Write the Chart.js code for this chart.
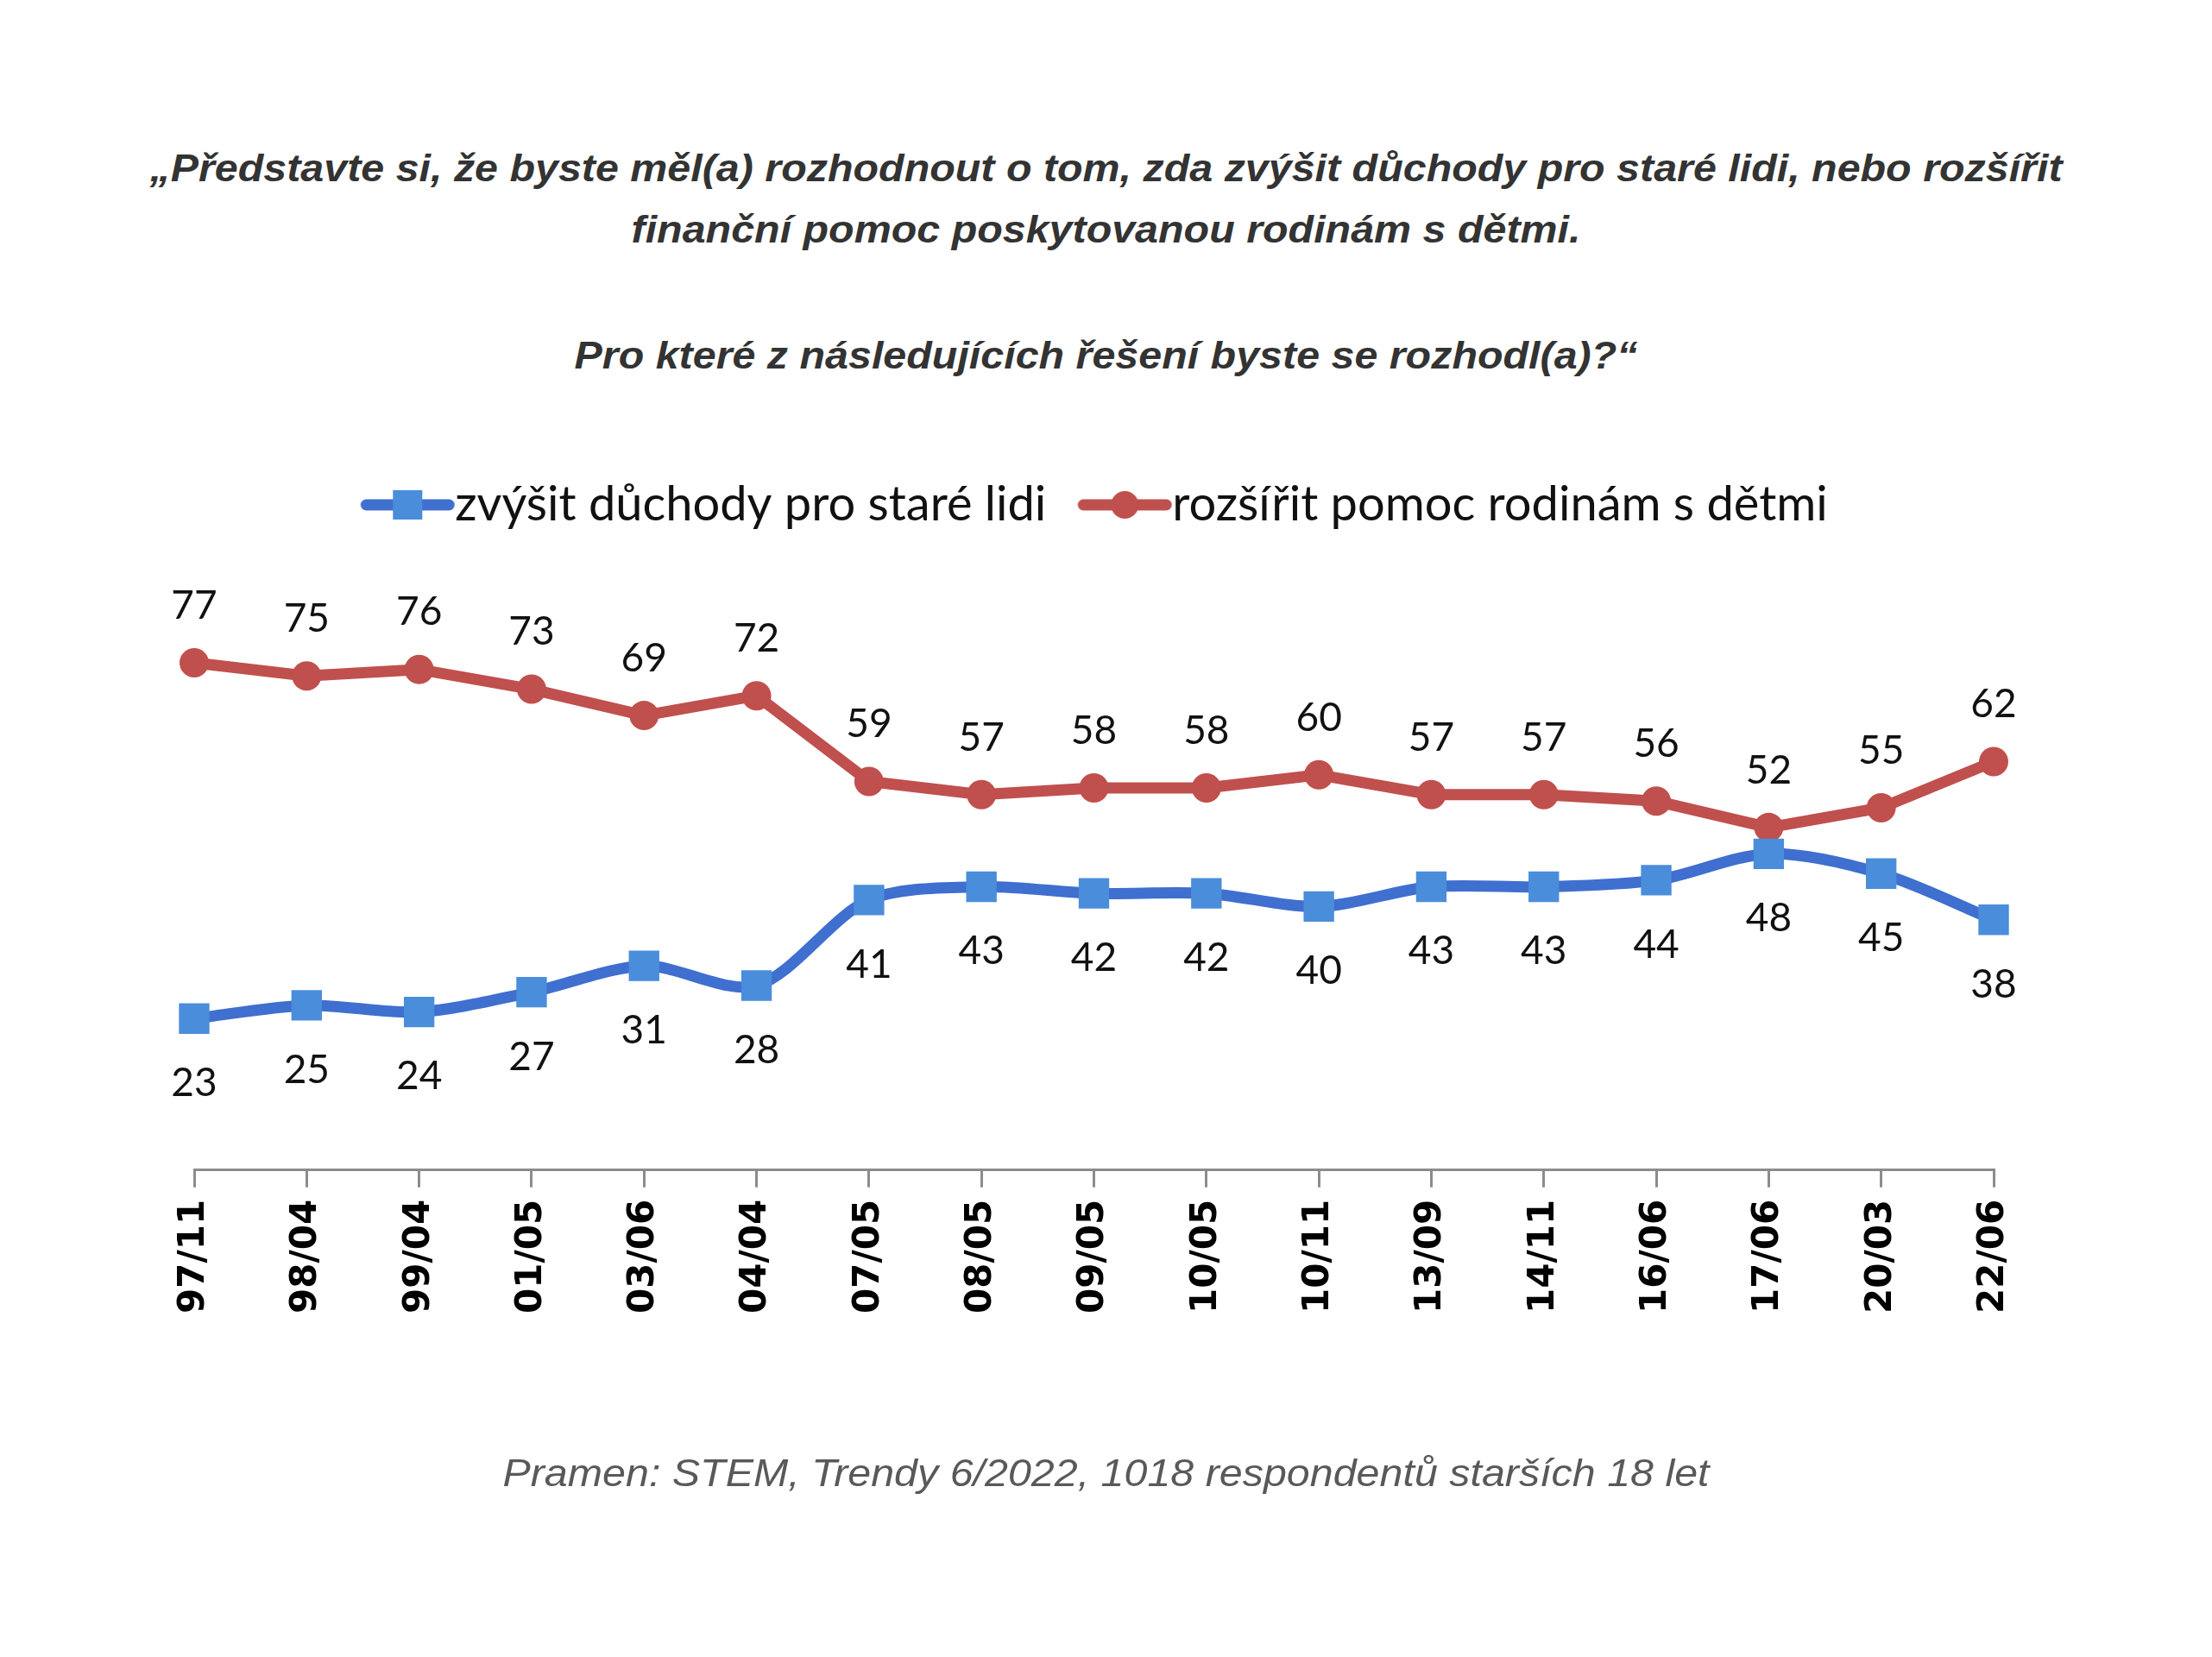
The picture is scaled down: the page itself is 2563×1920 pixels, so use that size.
<!DOCTYPE html>
<html>
<head>
<meta charset="utf-8">
<script src="https://cdn.jsdelivr.net/npm/chart.js@4/dist/chart.umd.min.js"></script>
<style>
  html, body { margin: 0; padding: 0; background: #fff; }
  body { width: 2563px; height: 1920px; position: relative; overflow: hidden; }
  .q { position: absolute; left: 0; width: 2563px; text-align: center; white-space: nowrap;
       font-family: "Liberation Sans", Arial, sans-serif; font-style: italic; font-weight: bold;
       font-size: 44px; line-height: 60px; color: #333; transform: scaleX(1.1); }
  .src { position: absolute; left: 0; width: 2563px; text-align: center; white-space: nowrap;
       font-family: "Liberation Sans", Arial, sans-serif; font-style: italic;
       font-size: 44px; line-height: 60px; color: #595959; top: 1677px; transform: scaleX(1.1); }
  #chart { position: absolute; left: 0; top: 0; }
</style>
</head>
<body>
<div class="q" style="top:165px">„Představte si, že byste měl(a) rozhodnout o tom, zda zvýšit důchody pro staré lidi, nebo rozšířit</div>
<div class="q" style="top:236px">finanční pomoc poskytovanou rodinám s dětmi.</div>
<div class="q" style="top:382px">Pro které z následujících řešení byste se rozhodl(a)?“</div>
<canvas id="chart" width="2563" height="1920"></canvas>
<div class="src">Pramen: STEM, Trendy 6/2022, 1018 respondentů starších 18 let</div>

<script>
// survey waves (year/month)
const waves = ['97/11', '98/04', '99/04', '01/05', '03/06', '04/04', '07/05', '08/05', '09/05',
  '10/05', '10/11', '13/09', '14/11', '16/06', '17/06', '20/03', '22/06'];

const pensionsLabel = 'zvýšit důchody pro staré lidi';
const familiesLabel = 'rozšířit pomoc rodinám s dětmi';

// % of respondents
const pensions = [23, 25, 24, 27, 31, 28, 41, 43, 42, 42, 40, 43, 43, 44, 48, 45, 38];
const families = [77, 75, 76, 73, 69, 72, 59, 57, 58, 58, 60, 57, 57, 56, 52, 55, 62];

const BLUE_LINE = '#3f6fcf';
const BLUE_MARK = '#4a8ddb';
const RED = '#c0504d';

// legend icon: line with marker, drawn into a small canvas
// (left 28px transparent so the text sits right after the line)
function legendIcon(lineColour, markColour, shape) {
  const c = document.createElement('canvas');
  c.width = 138;
  c.height = 40;
  const g = c.getContext('2d');
  g.strokeStyle = lineColour;
  g.lineWidth = 13;
  g.lineCap = 'round';
  g.beginPath();
  g.moveTo(35, 20);
  g.lineTo(131, 20);
  g.stroke();
  g.fillStyle = markColour;
  if (shape === 'rect') {
    g.fillRect(83 - 17, 20 - 17, 34, 34);
  } else {
    g.beginPath();
    g.arc(83, 20, 16, 0, Math.PI * 2);
    g.fill();
  }
  return c;
}

const valueLabels = {
  id: 'valueLabels',
  afterDatasetsDraw(chart) {
    const ctx = chart.ctx;
    ctx.save();
    ctx.font = '46px Lato, "Open Sans", sans-serif';
    ctx.fillStyle = '#111';
    ctx.textAlign = 'center';
    ctx.textBaseline = 'middle';
    chart.data.datasets.forEach((ds, i) => {
      const meta = chart.getDatasetMeta(i);
      meta.data.forEach((pt, j) => {
        ctx.fillText(String(ds.data[j]), pt.x, pt.y + ds.labelOffset);
      });
    });
    ctx.restore();
  }
};

const icons = [legendIcon(BLUE_LINE, BLUE_MARK, 'rect'), legendIcon(RED, RED, 'circle')];

new Chart(document.getElementById('chart'), {
  type: 'line',
  data: {
    labels: waves,
    datasets: [
      {
        label: pensionsLabel,
        data: pensions,
        borderColor: BLUE_LINE,
        backgroundColor: BLUE_MARK,
        borderWidth: 13,
        tension: 0.3,
        pointStyle: 'rect',
        pointRadius: 25,
        pointBorderWidth: 0,
        pointBackgroundColor: BLUE_MARK,
        labelOffset: 75
      },
      {
        label: familiesLabel,
        data: families,
        borderColor: RED,
        backgroundColor: RED,
        borderWidth: 13,
        tension: 0,
        pointStyle: 'circle',
        pointRadius: 17,
        pointBorderWidth: 0,
        pointBackgroundColor: RED,
        labelOffset: -66
      }
    ]
  },
  options: {
    responsive: false,
    animation: false,
    layout: { padding: { top: 521, left: 225, right: 253, bottom: 384 } },
    plugins: {
      tooltip: { enabled: false },
      legend: {
        position: 'top',
        labels: {
          usePointStyle: true,
          pointStyleWidth: 82,
          boxHeight: 40,
          padding: 36,
          color: '#111',
          font: { family: 'Lato, "Open Sans", sans-serif', size: 56 },
          generateLabels: (chart) => chart.data.datasets.map((ds, i) => ({
            text: ds.label,
            pointStyle: icons[i],
            datasetIndex: i,
            fontColor: '#111'
          }))
        }
      }
    },
    scales: {
      x: {
        offset: false,
        border: { color: '#8c8c8c', width: 3 },
        grid: { drawOnChartArea: false, tickLength: 20, color: '#8c8c8c', lineWidth: 3 },
        ticks: {
          minRotation: 90,
          maxRotation: 90,
          padding: 14,
          color: '#000',
          font: { family: '"DejaVu Sans", sans-serif', weight: 'bold', size: 42 }
        }
      },
      y: {
        display: false,
        min: 0,
        max: 96
      }
    }
  },
  plugins: [valueLabels]
});
</script>
</body>
</html>
